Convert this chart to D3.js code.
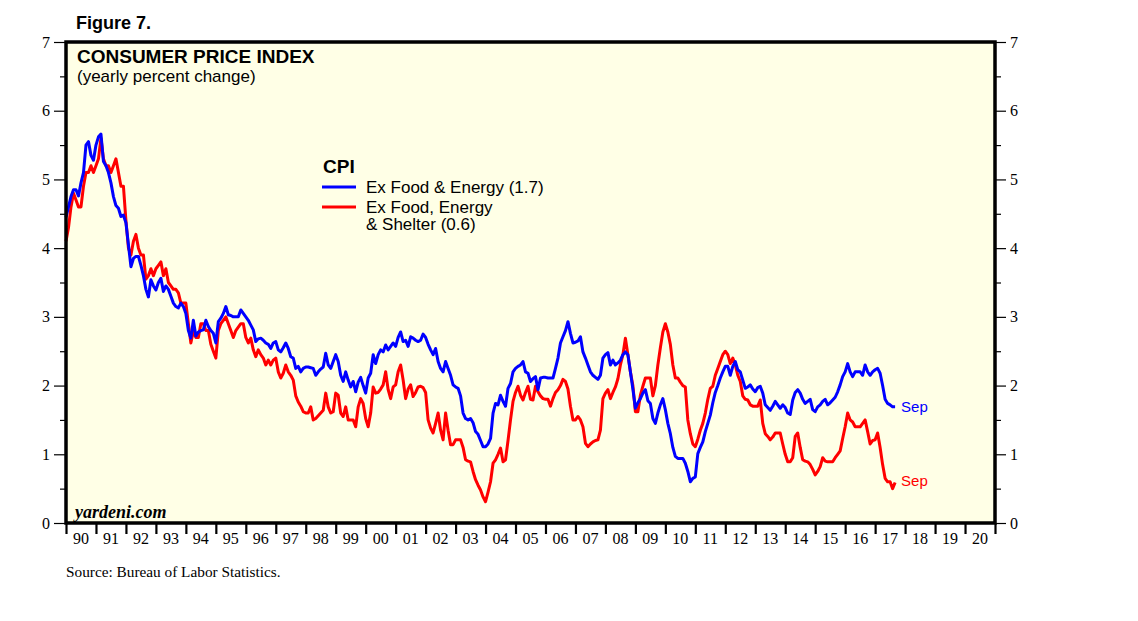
<!DOCTYPE html>
<html>
<head>
<meta charset="utf-8">
<script src="https://cdn.jsdelivr.net/npm/d3@7"></script>
<style>
  html, body { margin: 0; padding: 0; background: #ffffff; }
  svg { display: block; }
</style>
</head>
<body>
<svg id="chart" width="1138" height="621"></svg>
<script>
// ---- DATA (monthly, Jan 1990 .. Sep 2017, yearly % change) ----
const startYear = 1990;
const exFoodEnergy = [
  4.45, 4.6, 4.75, 4.85, 4.85, 4.76, 4.95, 5.1, 5.5, 5.55, 5.35, 5.28,
  5.5, 5.62, 5.66, 5.26, 5.2, 5.1, 4.95, 4.75, 4.62, 4.58, 4.46, 4.48,
  4.37, 4.05, 3.73, 3.85, 3.88, 3.88, 3.75, 3.6, 3.4, 3.29, 3.54, 3.45,
  3.39, 3.5, 3.56, 3.37, 3.45, 3.4, 3.3, 3.2, 3.15, 3.13, 3.2, 3.15,
  3.05, 2.8, 2.69, 2.95, 2.72, 2.78, 2.8, 2.81, 2.95, 2.86, 2.8, 2.76,
  2.62, 2.93, 2.98, 3.05, 3.15, 3.03, 3.02, 3.0, 3.0, 3.0, 3.1, 3.05,
  3.0, 2.95, 2.88, 2.81, 2.64, 2.68, 2.69, 2.66, 2.62, 2.6, 2.54, 2.62,
  2.64, 2.52, 2.49, 2.55, 2.62, 2.54, 2.42, 2.4, 2.25, 2.28, 2.2, 2.25,
  2.27, 2.27, 2.26, 2.25, 2.15, 2.2, 2.24, 2.27, 2.47, 2.3, 2.25, 2.35,
  2.45, 2.35, 2.15, 2.06, 2.2, 2.08, 1.98, 2.06, 1.91, 2.05, 2.12, 2.0,
  1.89, 2.11, 2.18, 2.45, 2.32, 2.45, 2.52, 2.49, 2.59, 2.52, 2.57, 2.62,
  2.57, 2.7, 2.78, 2.64, 2.66, 2.57, 2.71, 2.69, 2.66, 2.64, 2.66, 2.75,
  2.7, 2.6, 2.52, 2.45, 2.54, 2.35, 2.25, 2.2, 2.35, 2.25, 2.15, 2.01,
  1.98, 1.96, 1.85, 1.6, 1.52, 1.5, 1.52, 1.46, 1.33, 1.29, 1.2, 1.11,
  1.11, 1.15, 1.23, 1.6, 1.74, 1.72, 1.86, 1.77, 1.7, 1.96, 2.03, 2.2,
  2.25, 2.28, 2.3, 2.35, 2.2, 2.18, 2.06, 2.1, 2.13, 1.94, 2.11, 2.12,
  2.12, 2.11, 2.11, 2.11, 2.25, 2.4, 2.62, 2.71, 2.8, 2.93, 2.76, 2.62,
  2.63, 2.65, 2.71, 2.49, 2.4, 2.3, 2.2, 2.15, 2.12, 2.09, 2.15, 2.4,
  2.45, 2.48, 2.3, 2.37, 2.3, 2.33, 2.37, 2.45, 2.49, 2.45, 2.2, 1.95,
  1.67, 1.75, 1.81, 1.89, 1.94, 1.78, 1.74, 1.52, 1.45, 1.6, 1.72, 1.81,
  1.65, 1.45, 1.3, 1.1, 0.97, 0.94, 0.94, 0.94, 0.87, 0.75, 0.6, 0.65,
  0.67, 1.01, 1.1, 1.18, 1.33, 1.45, 1.57, 1.75, 1.9, 2.0, 2.11, 2.2,
  2.28, 2.28, 2.15, 2.28, 2.35, 2.23, 2.2, 2.08, 1.96, 1.98, 2.01, 1.95,
  1.91, 1.97, 1.99, 1.89, 1.72, 1.68, 1.64, 1.7, 1.77, 1.72, 1.67, 1.72,
  1.68, 1.6, 1.58, 1.79, 1.9, 1.94, 1.89, 1.8, 1.74, 1.77, 1.8, 1.65,
  1.62, 1.69, 1.72, 1.77, 1.8, 1.72, 1.75, 1.79, 1.83, 1.91, 2.01, 2.13,
  2.2, 2.32, 2.2, 2.13, 2.2, 2.2, 2.2, 2.15, 2.3, 2.2, 2.15, 2.2,
  2.23, 2.25, 2.18, 2.0, 1.8, 1.74, 1.72, 1.69, 1.69
];
const exFoodEnergyShelter = [
  4.1, 4.3, 4.6, 4.8, 4.7, 4.6, 4.6, 4.9, 5.1, 5.1, 5.2, 5.1,
  5.2, 5.3, 5.6, 5.3, 5.2, 5.2, 5.1, 5.2, 5.3, 5.1, 4.9, 4.9,
  4.4, 4.0, 3.9, 4.1, 4.2, 4.0, 3.9, 3.9, 3.55, 3.6, 3.7, 3.6,
  3.7, 3.75, 3.8, 3.6, 3.7, 3.5, 3.45, 3.4, 3.4, 3.35, 3.2, 3.2,
  3.2, 2.9, 2.62, 2.8, 2.7, 2.7, 2.9, 2.9, 2.8, 2.8, 2.6, 2.5,
  2.4, 2.8, 2.9, 2.95, 3.0, 2.9, 2.8, 2.7, 2.8, 2.85, 2.9, 2.9,
  2.7, 2.62, 2.69, 2.52, 2.42, 2.52, 2.45, 2.4, 2.3, 2.37, 2.3, 2.37,
  2.4, 2.2, 2.11, 2.18, 2.3, 2.2, 2.15, 2.08, 1.85, 1.76, 1.7, 1.62,
  1.6, 1.6, 1.69, 1.5, 1.52, 1.56, 1.6, 1.64, 1.89, 1.69, 1.6, 1.62,
  1.89, 1.86, 1.6, 1.55, 1.69, 1.5, 1.5, 1.5, 1.4, 1.69, 1.81, 1.74,
  1.52, 1.4, 1.6, 1.98, 1.89, 1.9, 1.95, 2.01, 2.2, 1.94, 1.81, 1.98,
  2.01, 2.2, 2.3, 2.08, 1.81, 1.95, 2.01, 1.84, 1.9, 1.98, 1.99, 1.97,
  1.9, 1.5, 1.38, 1.31, 1.45, 1.6, 1.35, 1.21, 1.6, 1.35, 1.14, 1.14,
  1.21, 1.21, 1.21, 1.1, 0.92, 0.9, 0.89, 0.75, 0.63, 0.55, 0.48, 0.38,
  0.31, 0.45, 0.6, 0.87, 0.92, 1.0, 1.09, 0.89, 0.92, 1.2, 1.5, 1.77,
  1.9, 1.99, 1.86, 1.79, 1.9, 1.99, 1.8, 1.79, 1.99, 1.91, 1.85, 1.81,
  1.8, 1.8, 1.7, 1.81, 1.9, 1.94, 2.0, 2.09, 2.06, 1.95, 1.7, 1.5,
  1.5, 1.55, 1.5, 1.4, 1.16, 1.11, 1.15, 1.18, 1.2, 1.21, 1.35, 1.81,
  1.89, 1.94, 1.81, 1.9, 1.98, 2.1, 2.3, 2.45, 2.69, 2.45, 2.2, 2.0,
  1.62, 1.62, 1.86, 1.99, 2.11, 2.11, 2.11, 1.85, 2.0, 2.3, 2.55, 2.78,
  2.9, 2.78, 2.6, 2.3, 2.11, 2.11, 2.05, 2.0, 1.98, 1.5, 1.3, 1.15,
  1.11, 1.22, 1.35, 1.45, 1.6, 1.8, 1.96, 1.99, 2.15, 2.25, 2.35, 2.45,
  2.5, 2.45, 2.32, 2.4, 2.3, 2.15, 2.06, 1.85, 1.8, 1.79, 1.72, 1.7,
  1.7, 1.7, 1.79, 1.45, 1.3, 1.26, 1.21, 1.25, 1.31, 1.31, 1.31, 1.15,
  1.0, 0.89, 0.89, 0.95, 1.26, 1.31, 1.1, 0.92, 0.9, 0.89, 0.85, 0.78,
  0.7, 0.75, 0.82, 0.95, 0.9, 0.89, 0.89, 0.89, 0.95, 1.0, 1.05, 1.23,
  1.4, 1.6, 1.5, 1.47, 1.4, 1.4, 1.4, 1.45, 1.5, 1.33, 1.15, 1.2,
  1.21, 1.31, 1.1, 0.85, 0.65, 0.6, 0.6, 0.5, 0.59
];
const yearLabels = ["90","91","92","93","94","95","96","97","98","99","00","01","02","03","04","05","06","07","08","09","10","11","12","13","14","15","16","17","18","19","20"];
const yTicks = [0, 1, 2, 3, 4, 5, 6, 7];
const yMinorTicks = [0.5, 1.5, 2.5, 3.5, 4.5, 5.5, 6.5];
const seriesNames = ["Ex Food & Energy (1.7)", "Ex Food, Energy", "& Shelter (0.6)"];
const lastLabel = "Sep";

// ---- LAYOUT ----
const L = 66, R = 995, T = 42, B = 523;
const svg = d3.select("#chart");
const x = d3.scaleLinear().domain([startYear, startYear + yearLabels.length]).range([L, R]);
const y = d3.scaleLinear().domain([0, 7]).range([B, T]);
const sans = "Arial, 'Liberation Sans', Helvetica, sans-serif";
const serif = "'Times New Roman', 'Liberation Serif', Times, serif";

// plot background
svg.append("rect").attr("x", L).attr("y", T).attr("width", R - L).attr("height", B - T)
  .attr("fill", "#FFFFE6");

// left axis
const gl = svg.append("g").attr("transform", `translate(${L},0)`);
gl.call(d3.axisLeft(y).tickValues(yTicks).tickSize(12).tickPadding(4).tickFormat(d3.format("d")));
gl.append("g").call(d3.axisLeft(y).tickValues(yMinorTicks).tickSize(6).tickFormat(""));
// right axis
const gr = svg.append("g").attr("transform", `translate(${R},0)`);
gr.call(d3.axisRight(y).tickValues(yTicks).tickSize(11).tickPadding(4).tickFormat(d3.format("d")));
gr.append("g").call(d3.axisRight(y).tickValues(yMinorTicks).tickSize(6).tickFormat(""));
[gl, gr].forEach(g => {
  g.selectAll(".domain").remove();
  g.selectAll("line").attr("stroke", "#000").attr("stroke-width", 1.2);
  g.selectAll("text").attr("font-family", serif).attr("font-size", 16).attr("fill", "#000");
});

// bottom axis: ticks at year boundaries, labels centred in each year
const years = d3.range(startYear, startYear + yearLabels.length + 1);
const gb = svg.append("g").attr("transform", `translate(0,${B})`);
gb.call(d3.axisBottom(x).tickValues(years).tickSize(11).tickFormat(""));
gb.selectAll(".domain").remove();
gb.selectAll("line").attr("stroke", "#000").attr("stroke-width", 2.2);
gb.selectAll(".yl").data(yearLabels).enter().append("text")
  .attr("class", "yl")
  .attr("x", (d, i) => x(startYear + i + 0.5))
  .attr("y", 21)
  .attr("text-anchor", "middle")
  .attr("font-family", serif).attr("font-size", 16).attr("fill", "#000")
  .text(d => d);

// lines
const line = d3.line().x((d, i) => x(startYear + i / 12)).y(d => y(d));
svg.append("path").datum(exFoodEnergyShelter).attr("d", line)
  .attr("fill", "none").attr("stroke", "#FF0000").attr("stroke-width", 3).attr("stroke-linejoin", "round");
svg.append("path").datum(exFoodEnergy).attr("d", line)
  .attr("fill", "none").attr("stroke", "#0000FF").attr("stroke-width", 3).attr("stroke-linejoin", "round");

// frame
svg.append("rect").attr("x", L).attr("y", T).attr("width", R - L).attr("height", B - T)
  .attr("fill", "none").attr("stroke", "#000").attr("stroke-width", 3.5);

// end labels
const nB = exFoodEnergy.length - 1, nR = exFoodEnergyShelter.length - 1;
svg.append("text").attr("x", x(startYear + nB / 12) + 6).attr("y", y(exFoodEnergy[nB]) + 5)
  .attr("font-family", sans).attr("font-size", 15).attr("fill", "#0000FF").text(lastLabel);
svg.append("text").attr("x", x(startYear + nR / 12) + 6).attr("y", y(exFoodEnergyShelter[nR]) + 4)
  .attr("font-family", sans).attr("font-size", 15).attr("fill", "#FF0000").text(lastLabel);

// titles
svg.append("text").attr("x", 76).attr("y", 29).attr("font-family", sans).attr("font-weight", "bold")
  .attr("font-size", 18).text("Figure 7.");
svg.append("text").attr("x", 77).attr("y", 63).attr("font-family", sans).attr("font-weight", "bold")
  .attr("font-size", 19).text("CONSUMER PRICE INDEX");
svg.append("text").attr("x", 77).attr("y", 82).attr("font-family", sans)
  .attr("font-size", 17).text("(yearly percent change)");

// legend
svg.append("text").attr("x", 323).attr("y", 173).attr("font-family", sans).attr("font-weight", "bold")
  .attr("font-size", 19).text("CPI");
svg.append("line").attr("x1", 322).attr("x2", 356).attr("y1", 187).attr("y2", 187)
  .attr("stroke", "#0000FF").attr("stroke-width", 3);
svg.append("line").attr("x1", 322).attr("x2", 356).attr("y1", 207).attr("y2", 207)
  .attr("stroke", "#FF0000").attr("stroke-width", 3);
svg.append("text").attr("x", 366).attr("y", 193).attr("font-family", sans).attr("font-size", 17).text(seriesNames[0]);
svg.append("text").attr("x", 366).attr("y", 213).attr("font-family", sans).attr("font-size", 17).text(seriesNames[1]);
svg.append("text").attr("x", 366).attr("y", 230).attr("font-family", sans).attr("font-size", 17).text(seriesNames[2]);

// watermark & source
svg.append("text").attr("x", 75).attr("y", 518).attr("font-family", serif).attr("font-style", "italic")
  .attr("font-weight", "bold").attr("font-size", 18).text("yardeni.com");
svg.append("text").attr("x", 66).attr("y", 577).attr("font-family", serif)
  .attr("font-size", 15.3).text("Source: Bureau of Labor Statistics.");
</script>
</body>
</html>
